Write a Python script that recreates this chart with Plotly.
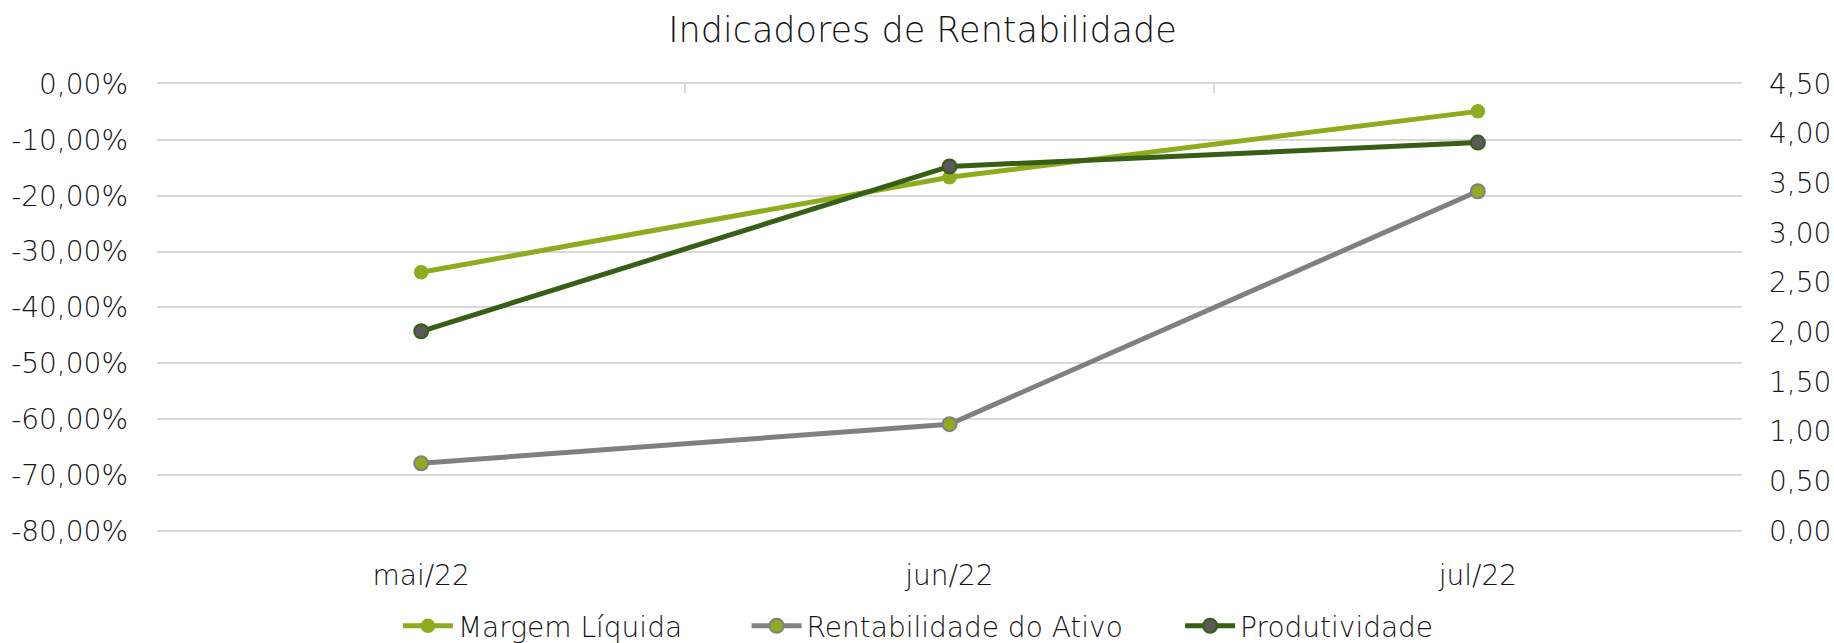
import plotly.graph_objects as go

categories = ["mai/22", "jun/22", "jul/22"]
margem_liquida = [-33.7, -16.7, -4.9]          # % (left axis)
rentabilidade_ativo = [-67.9, -60.9, -19.2]    # % (left axis)
produtividade = [2.01, 3.67, 3.91]             # right axis

left_ticks = list(range(-80, 1, 10))
left_ticktext = [f"{v},00%" for v in left_ticks]
right_ticks = [i * 0.5 for i in range(10)]
right_ticktext = [f"{v:.2f}".replace(".", ",") for v in right_ticks]

FONT = "DejaVu Sans"
TXT = "#141414"
GRID = "#d9d9d9"
C_ML = "#8fab1e"
C_RA = "#808080"
C_PR = "#375e15"
C_PR_FILL = "#595959"

fig = go.Figure()
fig.add_trace(go.Scatter(
    x=categories, y=margem_liquida, name="Margem Líquida", mode="lines+markers",
    line=dict(color=C_ML, width=5), legend="legend",
    marker=dict(size=13, color=C_ML, line=dict(color=C_ML, width=1.5)),
))
fig.add_trace(go.Scatter(
    x=categories, y=rentabilidade_ativo, name="Rentabilidade do Ativo", mode="lines+markers",
    line=dict(color=C_RA, width=5), legend="legend2",
    marker=dict(size=14, color=C_ML, line=dict(color=C_RA, width=2)),
))
fig.add_trace(go.Scatter(
    x=categories, y=produtividade, name="Produtividade", mode="lines+markers",
    line=dict(color=C_PR, width=5), yaxis="y2", legend="legend3",
    marker=dict(size=14, color=C_PR_FILL, line=dict(color=C_PR, width=2)),
))
# helper trace so the top (category boundary) axis is drawn
fig.add_trace(go.Scatter(x=[0, 1, 2], y=[None, None, None], xaxis="x2",
                         showlegend=False, hoverinfo="skip", mode="lines"))

legend_font = dict(family=FONT, size=28, color=TXT, weight=300)
def leg(x):
    return dict(orientation="h", x=x, xanchor="left", y=-0.21, yanchor="middle",
                font=legend_font, itemwidth=50, bgcolor="rgba(0,0,0,0)")

fig.update_layout(
    width=1834, height=643,
    margin=dict(l=157, r=92, t=84, b=111, autoexpand=False),
    paper_bgcolor="white", plot_bgcolor="white",
    font=dict(family=FONT, size=28, color=TXT, weight=300),
    title=dict(text="Indicadores de Rentabilidade", x=0.503, xanchor="center",
               y=1 - 30 / 643, yanchor="middle", yref="container", automargin=False,
               font=dict(family=FONT, size=35, color=TXT, weight=300)),
    xaxis=dict(type="category", range=[-0.5, 2.5], showgrid=False, showline=False,
               ticks="", ticklabelstandoff=24, zeroline=False, automargin=False),
    xaxis2=dict(overlaying="x", side="top", range=[-0.5, 2.5], showgrid=False,
                showline=True, linecolor=GRID, linewidth=1.5, ticks="inside",
                ticklen=9, tickwidth=1.5, tickcolor=GRID, automargin=False,
                tickvals=[-0.5, 0.5, 1.5, 2.5], showticklabels=False, zeroline=False),
    yaxis=dict(range=[-80.2, 0], tickvals=left_ticks, ticktext=left_ticktext,
               showgrid=True, gridcolor=GRID, gridwidth=1.5, zeroline=False,
               showline=False, ticks="", ticklabelstandoff=28, automargin=False),
    yaxis2=dict(range=[-0.01125, 4.5], tickvals=right_ticks, ticktext=right_ticktext,
                overlaying="y", side="right", showgrid=False, zeroline=False,
                showline=False, ticks="", ticklabelstandoff=26, automargin=False),
    legend=leg(0.152),
    legend2=leg(0.372),
    legend3=leg(0.6455),
    showlegend=True,
)

fig.write_html("out.html", config={"displayModeBar": False},
               post_script="document.body.style.margin='0';document.body.style.overflow='hidden';")
